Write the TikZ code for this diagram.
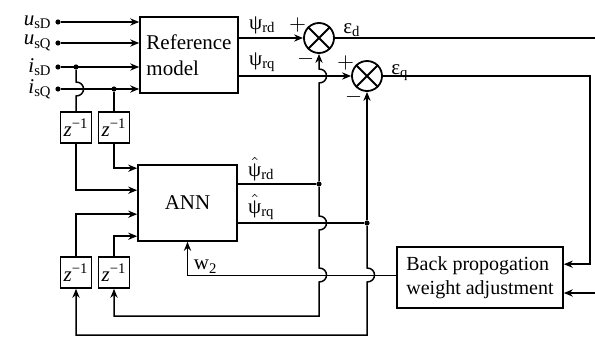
\documentclass[tikz,border=0pt]{standalone}
\usepackage{amsmath}
\usepackage{fontspec}
\setmainfont{Liberation Serif}
\usetikzlibrary{positioning,arrows.meta}

\tikzset{
  block/.style={draw,line width=0.8pt,inner sep=2pt},
  delay/.style={draw,line width=0.8pt,minimum size=15.5pt,inner sep=0pt},
  summer/.style={draw,circle,line width=0.9pt,minimum size=15pt,inner sep=0pt},
  tap/.style={circle,fill,inner sep=0pt,minimum size=2.6pt},
  lbl/.style={inner sep=1pt},
  sig/.style={line width=0.75pt},
  arr/.style={sig,-{Stealth[length=4.5pt,width=3.6pt]}},
  hop/.style args={#1/#2}{insert path={-- (#1,#2-7) .. controls (#1+10,#2-7) and (#1+10,#2+7) .. (#1,#2+7)}},
  hopup/.style args={#1/#2}{insert path={-- (#1,#2+7) .. controls (#1+10,#2+7) and (#1+10,#2-7) .. (#1,#2-7)}}
}

\begin{document}
\begin{tikzpicture}[x=0.5pt,y=-0.5pt,font=\fontsize{10.5}{13}\selectfont]
\useasboundingbox (0,0) rectangle (595,337);
% blocks
\node[block,minimum width=49pt,minimum height=38pt,align=left] (ref) at (189,55) {Reference\\model};
\node[block,minimum width=49.5pt,minimum height=38pt] (ann) at (187.5,203) {ANN};
\node[block,minimum width=83pt,minimum height=30.5pt,align=left,font=\fontsize{10}{12}\selectfont] (bp) at (480,277.5) {Back propogation\\weight adjustment};
% unit delays
\node[delay] (z1) at (76,127.5) {\textit{z}\textsuperscript{−1}};
\node[delay] (z2) at (114,127.5) {\textit{z}\textsuperscript{−1}};
\node[delay] (z3) at (76,272.5) {\textit{z}\textsuperscript{−1}};
\node[delay] (z4) at (114,272.5) {\textit{z}\textsuperscript{−1}};
% summing junctions
\node[summer] (s1) at (319,38) {};
\node[summer] (s2) at (367,76) {};
\foreach \s in {s1,s2}
  \draw[line width=0.9pt] (\s.north west) -- (\s.south east) (\s.north east) -- (\s.south west);

% stator inputs
\foreach \n/\y/\lab in {usd/22/\textit{u}\textsubscript{sD},usq/43/\textit{u}\textsubscript{sQ},isd/67/\textit{i}\textsubscript{sD},isq/89/\textit{i}\textsubscript{sQ}}{
  \node[tap] (\n) at (58,\y) {};
  \node[lbl,left=0.5pt of \n] (l\n) {\lab};
  \draw[arr] (\n) -- (\n -| ref.west);
}
\node[tap] (jsd) at (76,67) {};
\node[tap] (jsq) at (114,89) {};
\draw[sig] (jsd) [hop=76/89] -- (z1.north);
\draw[sig] (jsq) -- (z2.north);

% delayed signals into ANN
\draw[arr] (z2.south) |- ([yshift=-2pt]ann.north west);
\draw[arr] (z1.south) |- ([yshift=-13pt]ann.north west);
\draw[arr] (z3.north) |- ([yshift=-25pt]ann.north west);
\draw[arr] (z4.north) |- ([yshift=-36pt]ann.north west);

% reference model outputs
\draw[arr] (ref.east |- s1) -- (s1.west);
\draw[arr] (ref.east |- s2) -- (s2.west);
\node[lbl,anchor=south west] (lrd) at ([xshift=4pt,yshift=1pt]ref.east |- s1) {ψ\textsubscript{rd}};
\node[lbl,anchor=south west] (lrq) at ([xshift=4pt,yshift=1pt]ref.east |- s2) {ψ\textsubscript{rq}};
\node (p1) at ([xshift=-5pt,yshift=1pt]s1.north west) {$+$};
\node (m1) at ([xshift=-1pt,yshift=-4.7pt]s1.south west) {$-$};
\node (p2) at ([xshift=-5pt,yshift=1pt]s2.north west) {$+$};
\node (m2) at ([xshift=-1pt,yshift=-4.7pt]s2.south west) {$-$};
\node[lbl,anchor=base west] (led) at ([xshift=3pt,yshift=2.5pt]s1.east) {ε\textsubscript{d}};
\node[lbl,anchor=base west] (leq) at ([xshift=3pt,yshift=1pt]s2.east) {ε\textsubscript{q}};

% ANN outputs
\node[tap] (jd) at (319,184) {};
\node[tap] (jq) at (367,223) {};
\draw[sig] (ann.east |- jd) -- (jd);
\draw[sig] (ann.east |- jq) -- (jq);
\node[lbl,anchor=south west] (lhd) at ([xshift=4pt,yshift=0.5pt]ann.east |- jd) {$\hat{\text{ψ}}$\textsubscript{rd}};
\node[lbl,anchor=south west] (lhq) at ([xshift=4pt,yshift=0.5pt]ann.east |- jq) {$\hat{\text{ψ}}$\textsubscript{rq}};
\draw[arr] (jd) [hopup=319/76] -- (s1.south);
\draw[arr] (jq) -- (s2.south);
\coordinate (fb4) at (319,316);
\coordinate (fb3) at (367,335);
\draw[arr] (jd) [hop=319/223] [hop=319/275] -- (fb4) -| (z4.south);
\draw[arr] (jq) [hop=367/275] -- (fb3) -| (z3.south);

% errors and weight update
\coordinate (edend) at (595,38);
\draw[sig] (s1) -- (edend);
\coordinate (eqc) at (590,76);
\draw[arr] (s2) -- (eqc) |- ([yshift=-9pt]bp.north east);
\coordinate (bpin) at (595,293);
\draw[arr] (bpin) -- (bpin -| bp.east);
\draw[arr] ([yshift=1pt]bp.west) -| (ann.south);
\node[lbl,anchor=south west] (lw) at ([xshift=2pt,yshift=1pt]ann.south |- bp.west) {w\textsubscript{2}};
\end{tikzpicture}
\end{document}
